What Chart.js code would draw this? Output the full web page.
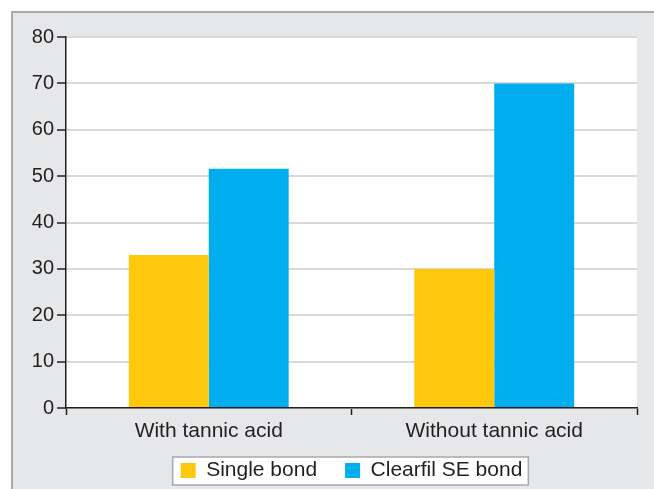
<!DOCTYPE html>
<html><head><meta charset="utf-8">
<script src="https://cdn.jsdelivr.net/npm/chart.js@4.4.0/dist/chart.umd.min.js"></script>
<style>
html,body{margin:0;padding:0;overflow:hidden;background:#fff;width:654px;height:489px}
canvas{position:absolute;left:0;top:0}
</style></head>
<body>
<canvas id="c" width="654" height="489" style="width:654px;height:489px"></canvas>
<script>
const categories = ['With tannic acid', 'Without tannic acid'];
const seriesNames = ['Single bond', 'Clearfil SE bond'];
const singleBond = [33, 30];
const clearfilSE = [51.6, 70];
const yTicks = [0, 10, 20, 30, 40, 50, 60, 70, 80];
const seriesColors = ['#fec80d', '#00aeef'];

Chart.defaults.font.family = '"Liberation Sans", Arial, Helvetica, sans-serif';
Chart.defaults.color = '#231f20';

const panelPlugin = {
  id: 'panel',
  afterLayout(chart) {
    const a = chart.chartArea, lg = chart.legend;
    if (!lg) return;
    const shift = (a.left + a.right) / 2 - (lg.left + lg.right) / 2;
    lg.left += shift;
    lg.right += shift;
  },
  beforeDraw(chart) {
    const ctx = chart.ctx, a = chart.chartArea;
    ctx.save();
    ctx.fillStyle = '#e6e7e8';
    ctx.fillRect(12, 12, chart.width, chart.height);
    ctx.strokeStyle = '#a7a9ac';
    ctx.lineWidth = 2;
    ctx.beginPath();
    ctx.moveTo(12, chart.height);
    ctx.lineTo(12, 12);
    ctx.lineTo(chart.width, 12);
    ctx.stroke();
    ctx.fillStyle = '#ffffff';
    ctx.fillRect(a.left, a.top, a.right - a.left, a.bottom - a.top);
    const hb = chart.legend && chart.legend.legendHitBoxes;
    if (hb && hb.length) {
      const first = hb[0], last = hb[hb.length - 1];
      const x0 = first.left - 8, x1 = last.left + last.width + 6;
      const y0 = first.top - 3, y1 = first.top + first.height + 4;
      ctx.fillStyle = '#ffffff';
      ctx.fillRect(x0, y0, x1 - x0, y1 - y0);
      ctx.strokeStyle = '#a7a9ac';
      ctx.lineWidth = 1.5;
      ctx.strokeRect(x0, y0, x1 - x0, y1 - y0);
    }
    ctx.restore();
  }
};

new Chart(document.getElementById('c'), {
  type: 'bar',
  data: {
    labels: categories,
    datasets: [
      { label: seriesNames[0], data: singleBond, backgroundColor: seriesColors[0], borderWidth: 0 },
      { label: seriesNames[1], data: clearfilSE, backgroundColor: seriesColors[1], borderWidth: 0 }
    ]
  },
  options: {
    responsive: false,
    animation: false,
    layout: { padding: { top: 37, right: 17, left: 0, bottom: -2 } },
    datasets: { bar: { categoryPercentage: 0.56, barPercentage: 1.0 } },
    plugins: {
      tooltip: { enabled: false },
      legend: {
        position: 'bottom',
        labels: { boxWidth: 15, boxHeight: 15, padding: 28, font: { size: 21 }, color: '#231f20' }
      }
    },
    scales: {
      x: {
        afterFit(s) { s.height = 24; s._computeLabelArea = () => undefined; },
        grid: { drawOnChartArea: false, drawTicks: true, tickLength: 7, tickColor: '#231f20', tickWidth: 1.5, offset: true },
        border: { color: '#231f20', width: 1.5 },
        ticks: { font: { size: 21 }, color: '#231f20', padding: 4, maxRotation: 0 }
      },
      y: {
        min: 0, max: 80,
        afterFit(s) { s.width = 66; },
        afterBuildTicks(s) { s.ticks = yTicks.map(v => ({ value: v })); },
        grid: { color: '#d9d9da', lineWidth: 2, tickColor: '#231f20', tickLength: 9, tickWidth: 1.5 },
        border: { color: '#231f20', width: 1.5 },
        ticks: { font: { size: 20 }, color: '#231f20', padding: 3 }
      }
    }
  },
  plugins: [panelPlugin]
});
</script>
</body></html>
